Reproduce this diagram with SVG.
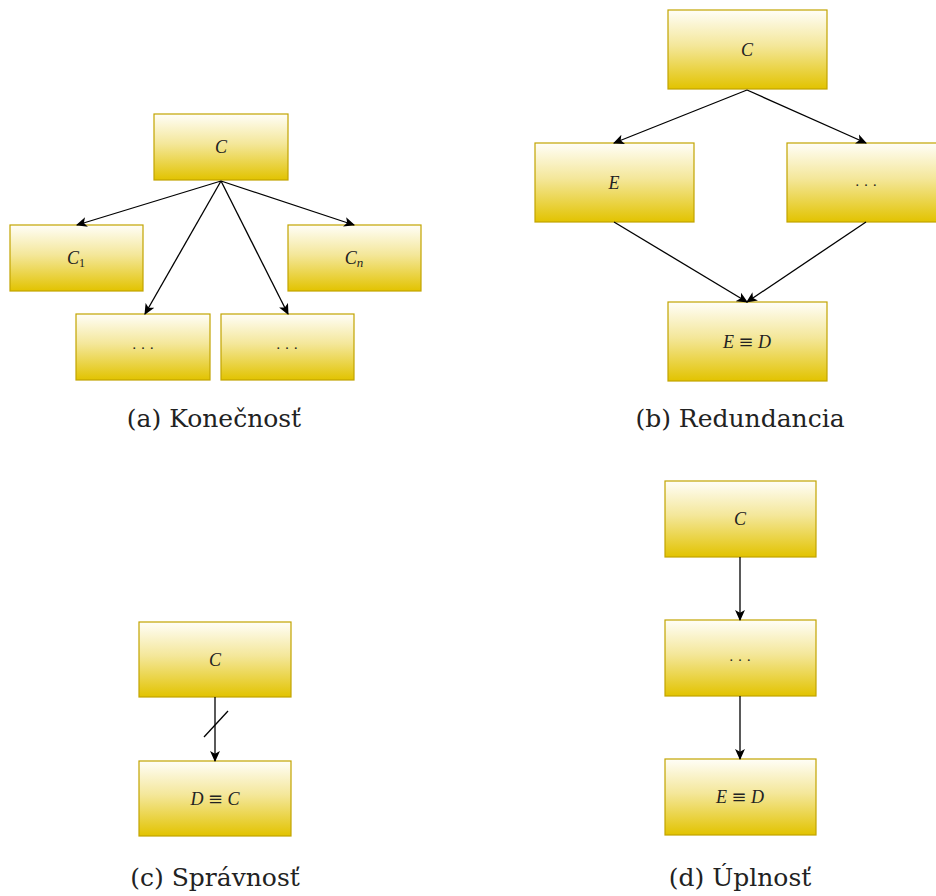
<svg xmlns="http://www.w3.org/2000/svg" width="936" height="896" viewBox="0 0 936 896">
  <defs>
    <linearGradient id="fill" x1="0" y1="0" x2="0" y2="1">
      <stop offset="0" stop-color="#fffef8"/>
      <stop offset="0.45" stop-color="#f4e79a"/>
      <stop offset="1" stop-color="#e2c300"/>
    </linearGradient>
    <marker id="arr" viewBox="0 0 10 10" refX="9" refY="5" markerWidth="11" markerHeight="11" markerUnits="userSpaceOnUse" orient="auto">
      <path d="M0,0.5 L10,5 L0,9.5 L2.5,5 Z" fill="#000"/>
    </marker>
  </defs>
  <style>
    .box { fill: url(#fill); stroke: #c2a400; stroke-width: 1.2; }
    .lbl { font-family: "Liberation Serif", "DejaVu Serif", serif; font-style: italic; font-size: 18px; text-anchor: middle; fill: #222; }
    .dots { font-family: "Liberation Serif", "DejaVu Serif", serif; font-size: 15px; text-anchor: middle; fill: #222; }
    .cap { font-family: "DejaVu Serif", "Liberation Serif", serif; font-size: 25px; text-anchor: middle; fill: #222; }
    .edge { stroke: #000; stroke-width: 1.3; fill: none; marker-end: url(#arr); }
    .tick { stroke: #000; stroke-width: 1.3; fill: none; }
    .eq { font-style: normal; font-family: "DejaVu Serif", serif; }
  </style>

  <rect width="936" height="896" fill="#fff"/>

  <!-- (a) finiteness -->
  <g id="a-C"><rect class="box" x="154" y="114" width="134" height="66"/><text class="lbl" x="221" y="153">C</text></g>
  <g id="a-C1"><rect class="box" x="10" y="225" width="133" height="66"/><text class="lbl" x="76" y="264">C<tspan font-size="12" dy="3" font-style="normal">1</tspan></text></g>
  <g id="a-Cn"><rect class="box" x="288" y="225" width="133" height="66"/><text class="lbl" x="354" y="264">C<tspan font-size="13" dy="3">n</tspan></text></g>
  <g id="a-d1"><rect class="box" x="76" y="314" width="134" height="66"/><text class="dots" x="143" y="353">· · ·</text></g>
  <g id="a-d2"><rect class="box" x="221" y="314" width="133" height="66"/><text class="dots" x="287" y="353">· · ·</text></g>
  <text class="cap" x="214" y="427">(a) Konečnosť</text>

  <!-- (b) redundancy -->
  <g id="b-C"><rect class="box" x="668" y="10" width="159" height="79"/><text class="lbl" x="747" y="56">C</text></g>
  <g id="b-E"><rect class="box" x="535" y="143" width="159" height="79"/><text class="lbl" x="614" y="189">E</text></g>
  <g id="b-dots"><rect class="box" x="787" y="143" width="159" height="79"/><text class="dots" x="866" y="190">· · ·</text></g>
  <g id="b-ED"><rect class="box" x="668" y="302" width="159" height="79"/><text class="lbl" x="747" y="348">E <tspan class="eq">≡</tspan> D</text></g>
  <text class="cap" x="740" y="427">(b) Redundancia</text>

  <!-- (c) correctness -->
  <g id="c-C"><rect class="box" x="139" y="622" width="152" height="75"/><text class="lbl" x="215" y="666">C</text></g>
  <g id="c-DC"><rect class="box" x="139" y="761" width="152" height="75"/><text class="lbl" x="215" y="805">D <tspan class="eq">≡</tspan> C</text></g>
  <text class="cap" x="215" y="886">(c) Správnosť</text>

  <!-- (d) completeness -->
  <g id="d-C"><rect class="box" x="665" y="481" width="151" height="76"/><text class="lbl" x="740" y="525">C</text></g>
  <g id="d-dots"><rect class="box" x="665" y="620" width="151" height="76"/><text class="dots" x="740" y="665">· · ·</text></g>
  <g id="d-ED"><rect class="box" x="665" y="759" width="151" height="76"/><text class="lbl" x="740" y="803">E <tspan class="eq">≡</tspan> D</text></g>
  <text class="cap" x="740" y="886">(d) Úplnosť</text>

  <g id="connectors">
    <line class="edge" x1="221" y1="181" x2="77" y2="225"/>
    <line class="edge" x1="221" y1="181" x2="354" y2="225"/>
    <line class="edge" x1="221" y1="181" x2="145" y2="314"/>
    <line class="edge" x1="221" y1="181" x2="288" y2="314"/>

    <line class="edge" x1="747" y1="90" x2="614" y2="143"/>
    <line class="edge" x1="747" y1="90" x2="866" y2="143"/>
    <line class="edge" x1="614" y1="222" x2="747" y2="302"/>
    <line class="edge" x1="866" y1="222" x2="747" y2="302"/>

    <line class="edge" x1="215" y1="697" x2="215" y2="761"/>
    <line class="tick" x1="204" y1="737" x2="228" y2="711"/>

    <line class="edge" x1="740" y1="557" x2="740" y2="620"/>
    <line class="edge" x1="740" y1="696" x2="740" y2="759"/>
  </g>
</svg>
